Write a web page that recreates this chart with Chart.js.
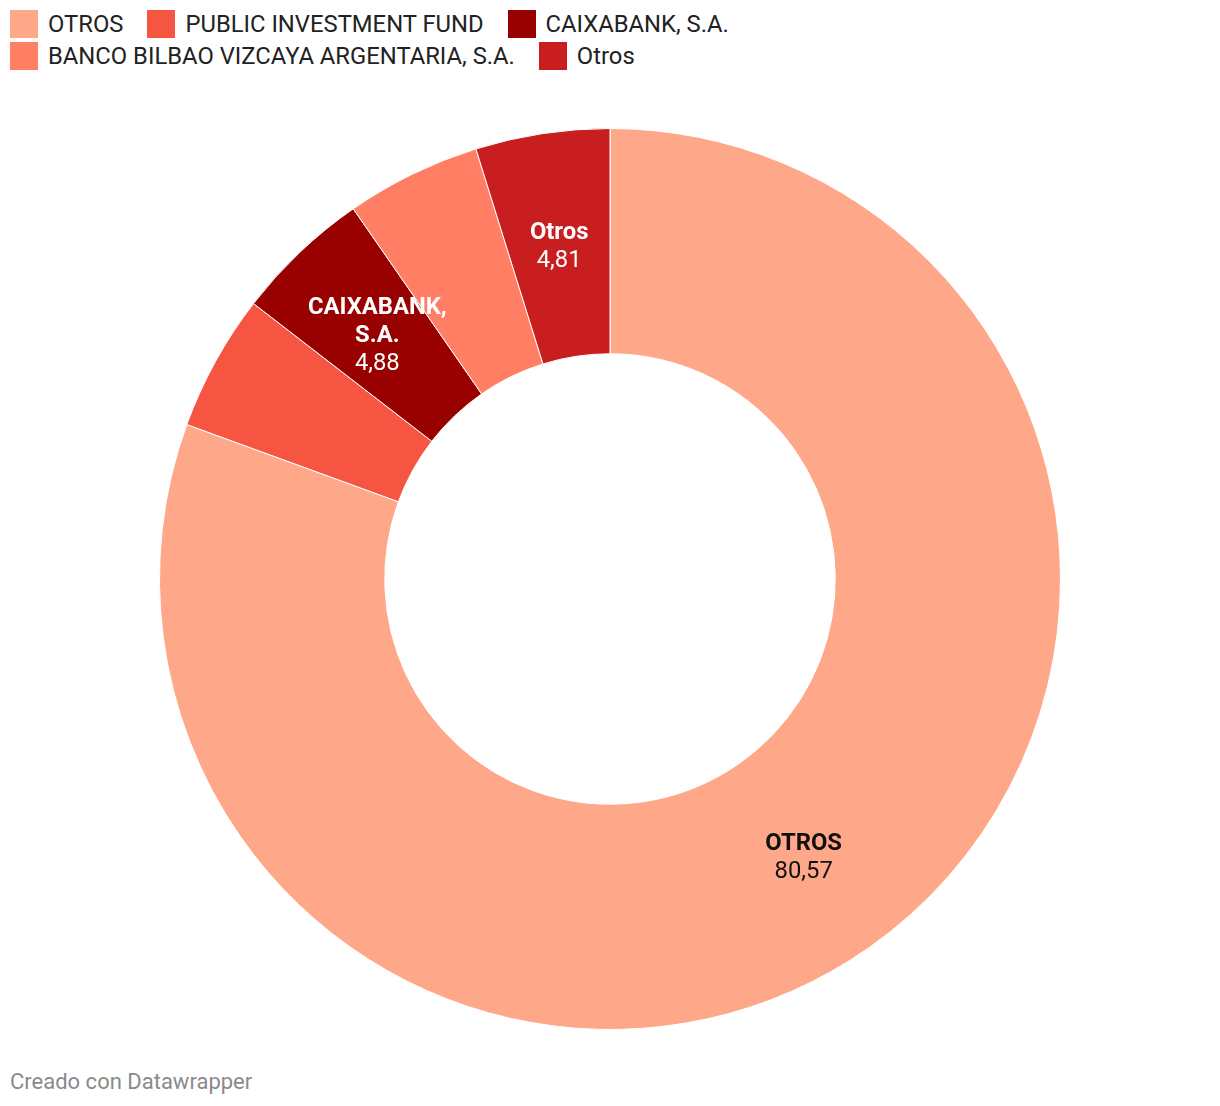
<!DOCTYPE html>
<html>
<head>
<meta charset="utf-8">
<script src="https://cdn.jsdelivr.net/npm/chart.js@4/dist/chart.umd.min.js"></script>
<style>
  html, body { margin: 0; padding: 0; background: #fff; }
  body { width: 1220px; height: 1106px; position: relative; font-family: Roboto, "Noto Sans", sans-serif; }
  #legend { position: absolute; left: 10px; top: 10px; width: 770px; display: flex; flex-wrap: wrap; }
  .item { display: flex; align-items: center; margin-right: 24px; height: 28px; margin-bottom: 4px; }
  .box { width: 28px; height: 28px; margin-right: 10px; }
  .txt { font-size: 23.8px; color: #222; line-height: 28px; white-space: nowrap; }
  #wrap { position: absolute; left: 159px; top: 128px; width: 902px; height: 902px; }
  #footer { position: absolute; left: 10px; top: 1069px; font-size: 22px; color: #8a8a8a; }
</style>
</head>
<body>
<div id="legend"></div>
<div id="wrap"><canvas id="chart"></canvas></div>
<div id="footer">Creado con Datawrapper</div>
<script>
// shareholders, clockwise from the top
const labels = ['OTROS', 'PUBLIC INVESTMENT FUND', 'CAIXABANK, S.A.', 'BANCO BILBAO VIZCAYA ARGENTARIA, S.A.', 'Otros'];
const values = [80.57, 4.90, 4.88, 4.84, 4.81];
const colors = ['#ffa789', '#f55541', '#990000', '#ff7e64', '#c81e1f'];
// label text inside the ring (null = no label)
const sliceNames = [['OTROS'], null, ['CAIXABANK,', 'S.A.'], null, ['Otros']];
const labelColors = ['#111111', null, '#ffffff', null, '#ffffff'];

// html legend
const legend = document.getElementById('legend');
labels.forEach((l, i) => {
  const item = document.createElement('div');
  item.className = 'item';
  item.innerHTML = '<div class="box" style="background:' + colors[i] + '"></div><span class="txt">' + l + '</span>';
  legend.appendChild(item);
});

const fmt = v => v.toFixed(2).replace('.', ',');

const sliceLabels = {
  id: 'sliceLabels',
  afterDatasetsDraw(chart) {
    const ctx = chart.ctx;
    const meta = chart.getDatasetMeta(0);
    meta.data.forEach((arc, i) => {
      if (!sliceNames[i]) return;
      const p = arc.tooltipPosition();
      const lines = sliceNames[i].map(t => ({ t: t, bold: true })).concat([{ t: fmt(values[i]), bold: false }]);
      const lh = 28;
      let y = p.y + 2 - (lines.length - 1) * lh / 2;
      ctx.save();
      ctx.fillStyle = labelColors[i];
      ctx.textAlign = 'center';
      ctx.textBaseline = 'middle';
      lines.forEach(line => {
        ctx.font = (line.bold ? 'bold ' : '') + '23.8px Roboto';
        ctx.fillText(line.t, p.x, y);
        y += lh;
      });
      ctx.restore();
    });
  }
};

new Chart(document.getElementById('chart'), {
  type: 'doughnut',
  data: {
    labels: labels,
    datasets: [{
      data: values,
      backgroundColor: colors,
      borderColor: '#ffffff',
      borderWidth: 1
    }]
  },
  options: {
    responsive: true,
    maintainAspectRatio: false,
    animation: false,
    cutout: '50%',
    layout: { padding: 0 },
    plugins: {
      legend: { display: false },
      tooltip: { enabled: false }
    }
  },
  plugins: [sliceLabels]
});
</script>
</body>
</html>
